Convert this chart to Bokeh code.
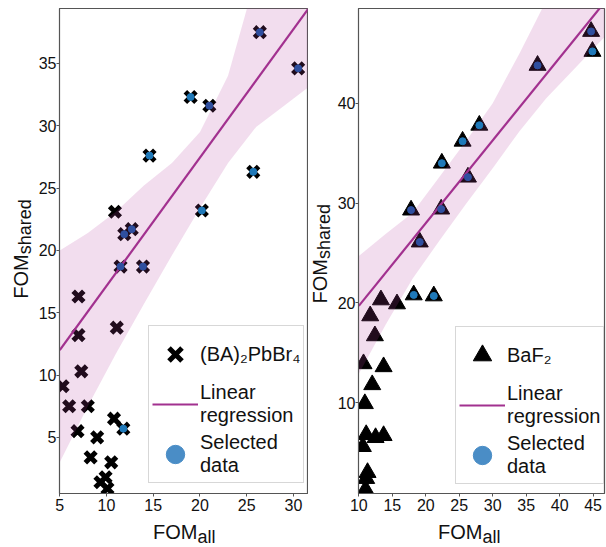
import math
from bokeh.plotting import figure
from bokeh.layouts import row, column
from bokeh.models import ColumnDataSource, FixedTicker, Label, Legend, LegendItem, Range1d
from bokeh.embed import file_html
from bokeh.resources import INLINE

FONT = "Liberation Sans"
TXT = "#111111"
FRAME = "#555555"
FIT = "#a2318f"
BAND = "#b8449e"
DARK = "#2f4f9f"
LIGHT = "#1f79b9"
LEG_BLUE = "#4a8dc6"

# ---------------- left panel: (BA)2PbBr4 ----------------
ba_x = [26.4, 30.5, 19.0, 21.0, 14.6, 25.7, 20.2, 10.9, 11.9, 12.7, 11.5, 13.9,
        7.0, 7.0, 11.1, 7.3, 5.3, 6.0, 8.0, 10.8, 11.8, 6.9, 9.0, 8.3, 10.5, 9.35, 9.9, 10.1]
ba_y = [37.5, 34.6, 32.3, 31.6, 27.6, 26.3, 23.2, 23.1, 21.3, 21.7, 18.7, 18.7,
        16.3, 13.2, 13.8, 10.3, 9.1, 7.5, 7.5, 6.5, 5.7, 5.5, 5.0, 3.4, 3.0, 1.4, 1.8, 0.9]
ba_sel = ["d", "d", "l", "d", "l", "l", "l", "", "d", "d", "d", "d",
          "", "", "", "", "", "", "", "", "l", "", "", "", "", "", "", ""]
ba_fit_x = [5.0, 31.8]
ba_fit_y = [12.0, 39.6]
ba_band_x = [5, 8, 11, 14, 17, 20, 23, 26, 29, 31.8]
ba_band_lo = [3.0, 7.5, 11.7, 15.7, 19.6, 23.4, 27.0, 29.9, 31.6, 33.2]
ba_band_hi = [20.0, 21.4, 23.1, 25.2, 27.0, 29.5, 34.0, 42.0, 49.0, 54.0]
ba_xticks = [5, 10, 15, 20, 25, 30]
ba_yticks = [5, 10, 15, 20, 25, 30, 35]

# ---------------- right panel: BaF2 ----------------
bf_x = [44.7, 44.9, 36.7, 28.0, 25.5, 22.4, 26.3, 17.8, 22.3, 19.1, 18.2, 21.2,
        13.3, 15.7, 11.7, 12.4, 10.7, 13.7, 12.0, 10.9, 11.1, 12.5, 13.7, 10.6, 11.3, 11.1, 11.0]
bf_y = [47.2, 45.2, 43.8, 37.8, 36.2, 34.0, 32.6, 29.3, 29.4, 26.1, 20.8, 20.7,
        20.3, 19.9, 18.7, 16.7, 13.9, 13.6, 11.8, 9.9, 6.8, 6.5, 6.7, 5.6, 3.0, 2.4, 1.3]
bf_sel = ["d", "l", "d", "l", "l", "l", "d", "d", "d", "d", "l", "l",
          "", "", "", "", "", "", "", "", "", "", "", "", "", "", ""]
bf_fit_x = [10.0, 46.8]
bf_fit_y = [19.7, 50.2]
bf_band_x = [10, 14, 18, 22, 26, 30, 34, 38, 42, 46.8]
bf_band_lo = [12.9, 17.8, 22.4, 26.2, 29.9, 33.5, 37.2, 40.5, 43.3, 46.7]
bf_band_hi = [24.7, 26.9, 29.0, 32.6, 36.2, 40.0, 45.0, 50.3, 55.0, 61.0]
bf_xticks = [10, 15, 20, 25, 30, 35, 40, 45]
bf_yticks = [10, 20, 30, 40]

PH = 517  # height of the two plot panels; a 30 px strip below holds the x titles


def bare(width, height):
    f = figure(width=width, height=height, x_range=Range1d(0, width), y_range=Range1d(0, height),
               output_backend="svg", toolbar_location=None, min_border=0,
               min_border_left=0, min_border_right=0, min_border_top=0, min_border_bottom=0)
    f.title.visible = False
    f.axis.visible = False
    f.grid.visible = False
    f.outline_line_color = None
    return f


def title_pair(f, x, y, main, sub, sub_dx, sub_dy, angle=0.0):
    # (x, y) is the junction point; labels are anchored by their vertical middle
    f.add_layout(Label(x=x, y=y, text=main, angle=angle, text_align="right",
                       text_baseline="middle", text_font=FONT, text_font_size="20px",
                       text_color=TXT))
    f.add_layout(Label(x=x + sub_dx, y=y + sub_dy, text=sub, angle=angle, text_align="left",
                       text_baseline="middle", text_font=FONT, text_font_size="18px",
                       text_color=TXT))


def panel(xs, ys, sel, fit_x, fit_y, band_x, band_lo, band_hi, xticks, yticks,
          xr, yr, marker, msize, mlw, name, width, bl, br, legend_loc):
    p = figure(width=width, height=PH, x_range=Range1d(*xr), y_range=Range1d(*yr),
               output_backend="svg", toolbar_location=None,
               min_border_left=bl, min_border_right=br, min_border_top=8, min_border_bottom=24)
    p.title.visible = False
    p.grid.visible = False
    p.outline_line_color = FRAME
    p.outline_line_width = 1.2
    for ax in (p.xaxis[0], p.yaxis[0]):
        ax.axis_line_color = FRAME
        ax.major_tick_line_color = FRAME
        ax.major_tick_out = 3
        ax.major_tick_in = 0
        ax.minor_tick_line_color = None
        ax.major_label_text_font = FONT
        ax.major_label_text_font_size = "16px"
        ax.major_label_text_color = TXT
    p.xaxis[0].major_label_standoff = 2
    p.yaxis[0].major_label_standoff = 0
    p.xaxis[0].ticker = FixedTicker(ticks=xticks)
    p.yaxis[0].ticker = FixedTicker(ticks=yticks)

    src = ColumnDataSource(dict(x=xs, y=ys))
    pts = p.scatter("x", "y", source=src, marker=marker, size=msize,
                    line_color="black", fill_color="black", line_width=mlw)

    bsrc = ColumnDataSource(dict(x=band_x, lo=band_lo, hi=band_hi))
    p.varea(x="x", y1="lo", y2="hi", source=bsrc, fill_color=BAND, fill_alpha=0.18)

    fit = p.line(fit_x, fit_y, line_color=FIT, line_width=2.2)

    sx = [x for x, s in zip(xs, sel) if s]
    sy = [y for y, s in zip(ys, sel) if s]
    sc = [DARK if s == "d" else LIGHT for s in sel if s]
    p.scatter("x", "y", source=ColumnDataSource(dict(x=sx, y=sy, c=sc)), marker="circle",
              size=7, fill_color="c", line_color="c")

    # legend-only key for "Selected data" (NaN position: never drawn in the plot area)
    proxy = p.scatter(x=[float("nan")], y=[float("nan")], marker="circle",
                      fill_color=LEG_BLUE, line_color=LEG_BLUE)

    leg = Legend(items=[LegendItem(label=name, renderers=[pts]),
                        LegendItem(label="Linear\nregression", renderers=[fit]),
                        LegendItem(label="Selected\ndata", renderers=[proxy])],
                 location=legend_loc, glyph_width=46, glyph_height=50, padding=3,
                 spacing=0, label_standoff=2, margin=0,
                 label_text_font=FONT, label_text_font_size="20px", label_text_color=TXT,
                 border_line_color="#b0b0b0", border_line_width=1,
                 background_fill_color="white", background_fill_alpha=1.0)
    p.add_layout(leg)
    return p


p1 = panel(ba_x, ba_y, ba_sel, ba_fit_x, ba_fit_y, ba_band_x, ba_band_lo, ba_band_hi,
           ba_xticks, ba_yticks, (4.97, 31.5), (0.5, 39.4), "x", 15, 5, "(BA)₂PbBr₄",
           273, 22, 1, (89, 10))
p2 = panel(bf_x, bf_y, bf_sel, bf_fit_x, bf_fit_y, bf_band_x, bf_band_lo, bf_band_hi,
           bf_xticks, bf_yticks, (9.95, 46.7), (0.9, 49.5), "triangle", 17, 1, "BaF₂",
           272, 21, 2, (97, 9))

# y titles (rotated), in narrow strips beside the panels
ylab_l = bare(35, PH)
title_pair(ylab_l, 20.5, 255, "FOM", "shared", 4.3, 0, angle=math.pi / 2)
ylab_r = bare(26, PH)
title_pair(ylab_r, 11.7, 250, "FOM", "shared", 3.6, 0, angle=math.pi / 2)

# x titles, in a strip below the panels
xlab = bare(606, 30)
title_pair(xlab, 197, 16, "FOM", "all", 0, -5.75)
title_pair(xlab, 482, 16, "FOM", "all", 0, -5.75)

layout = column(row(ylab_l, p1, ylab_r, p2, spacing=0), xlab, spacing=0)
open("out.html", "w").write(file_html(layout, INLINE))
